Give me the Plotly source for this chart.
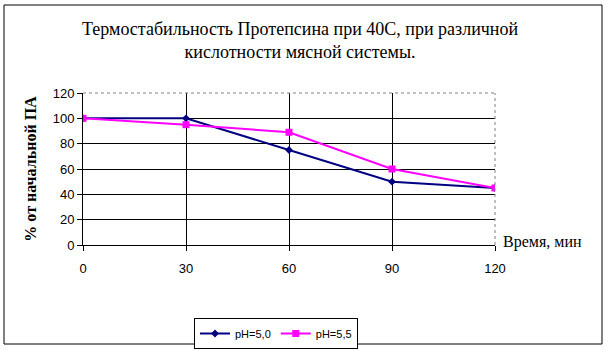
import plotly.graph_objects as go

time_min = [0, 30, 60, 90, 120]
ph50 = [100, 100, 75, 50, 45]
ph55 = [100, 95, 89, 60, 45]
x_ticks = [0, 30, 60, 90, 120]
y_ticks = [0, 20, 40, 60, 80, 100, 120]

L, R, T, B = 83, 495, 93, 245
W, H = 610, 354
pw, ph = R - L, B - T

def px(x):
    return (x - L) / pw

def py(y):
    return (B - y) / ph

serif = "Liberation Serif, Times New Roman"

fig = go.Figure()
fig.add_trace(go.Scatter(x=time_min, y=ph50, mode="lines+markers", name="pH=5,0",
                         line=dict(color="#000080", width=2),
                         marker=dict(symbol="diamond", size=6, color="#000080")))
fig.add_trace(go.Scatter(x=time_min, y=ph55, mode="lines+markers", name="pH=5,5",
                         line=dict(color="#FF00FF", width=2),
                         marker=dict(symbol="square", size=7, color="#FF00FF")))

fig.update_layout(
    width=W, height=H,
    margin=dict(l=L, r=W - R, t=T, b=H - B, autoexpand=False),
    plot_bgcolor="white", paper_bgcolor="white",
    font=dict(family="Liberation Sans, Arial", size=13, color="black"),
    showlegend=True,
    legend=dict(orientation="h", xref="container", yref="container",
                x=194 / W, y=1 - 318 / H, xanchor="left", yanchor="top",
                bordercolor="black", borderwidth=1, bgcolor="white",
                font=dict(size=11), itemwidth=30, tracegroupgap=0),
    xaxis=dict(range=[0, 120], tickvals=x_ticks, showgrid=True, gridcolor="black", gridwidth=1,
               showline=True, linecolor="black", linewidth=1, ticks="outside", ticklen=5,
               tickcolor="black", zeroline=False, fixedrange=True, ticklabelstandoff=6),
    yaxis=dict(range=[0, 120], tickvals=y_ticks, showgrid=True, gridcolor="black", gridwidth=1,
               showline=True, linecolor="black", linewidth=1, ticks="outside", ticklen=5,
               tickcolor="black", zeroline=False, fixedrange=True,
               title=dict(text="<b>% от начальной ПА</b>", font=dict(family=serif, size=16), standoff=12)),
    shapes=[
        dict(type="rect", xref="paper", yref="paper", x0=px(4), x1=px(602), y0=py(344), y1=py(5),
             line=dict(color="black", width=1), layer="below"),
        dict(type="line", xref="paper", yref="paper", x0=0, x1=1, y0=1, y1=1,
             line=dict(color="gray", width=1, dash="dot")),
        dict(type="line", xref="paper", yref="paper", x0=1, x1=1, y0=0, y1=1,
             line=dict(color="gray", width=1, dash="dot")),
    ],
    annotations=[
        dict(text="Термостабильность Протепсина при 40С, при различной<br>кислотности мясной системы.",
             xref="paper", yref="paper", x=px(300), y=py(40), xanchor="center", yanchor="middle",
             showarrow=False, font=dict(family=serif, size=18)),
        dict(text="Время, мин", xref="paper", yref="paper", x=px(501), y=py(242),
             xanchor="left", yanchor="middle", showarrow=False,
             font=dict(family=serif, size=16)),
    ],
)

fig.write_html("out.html")
